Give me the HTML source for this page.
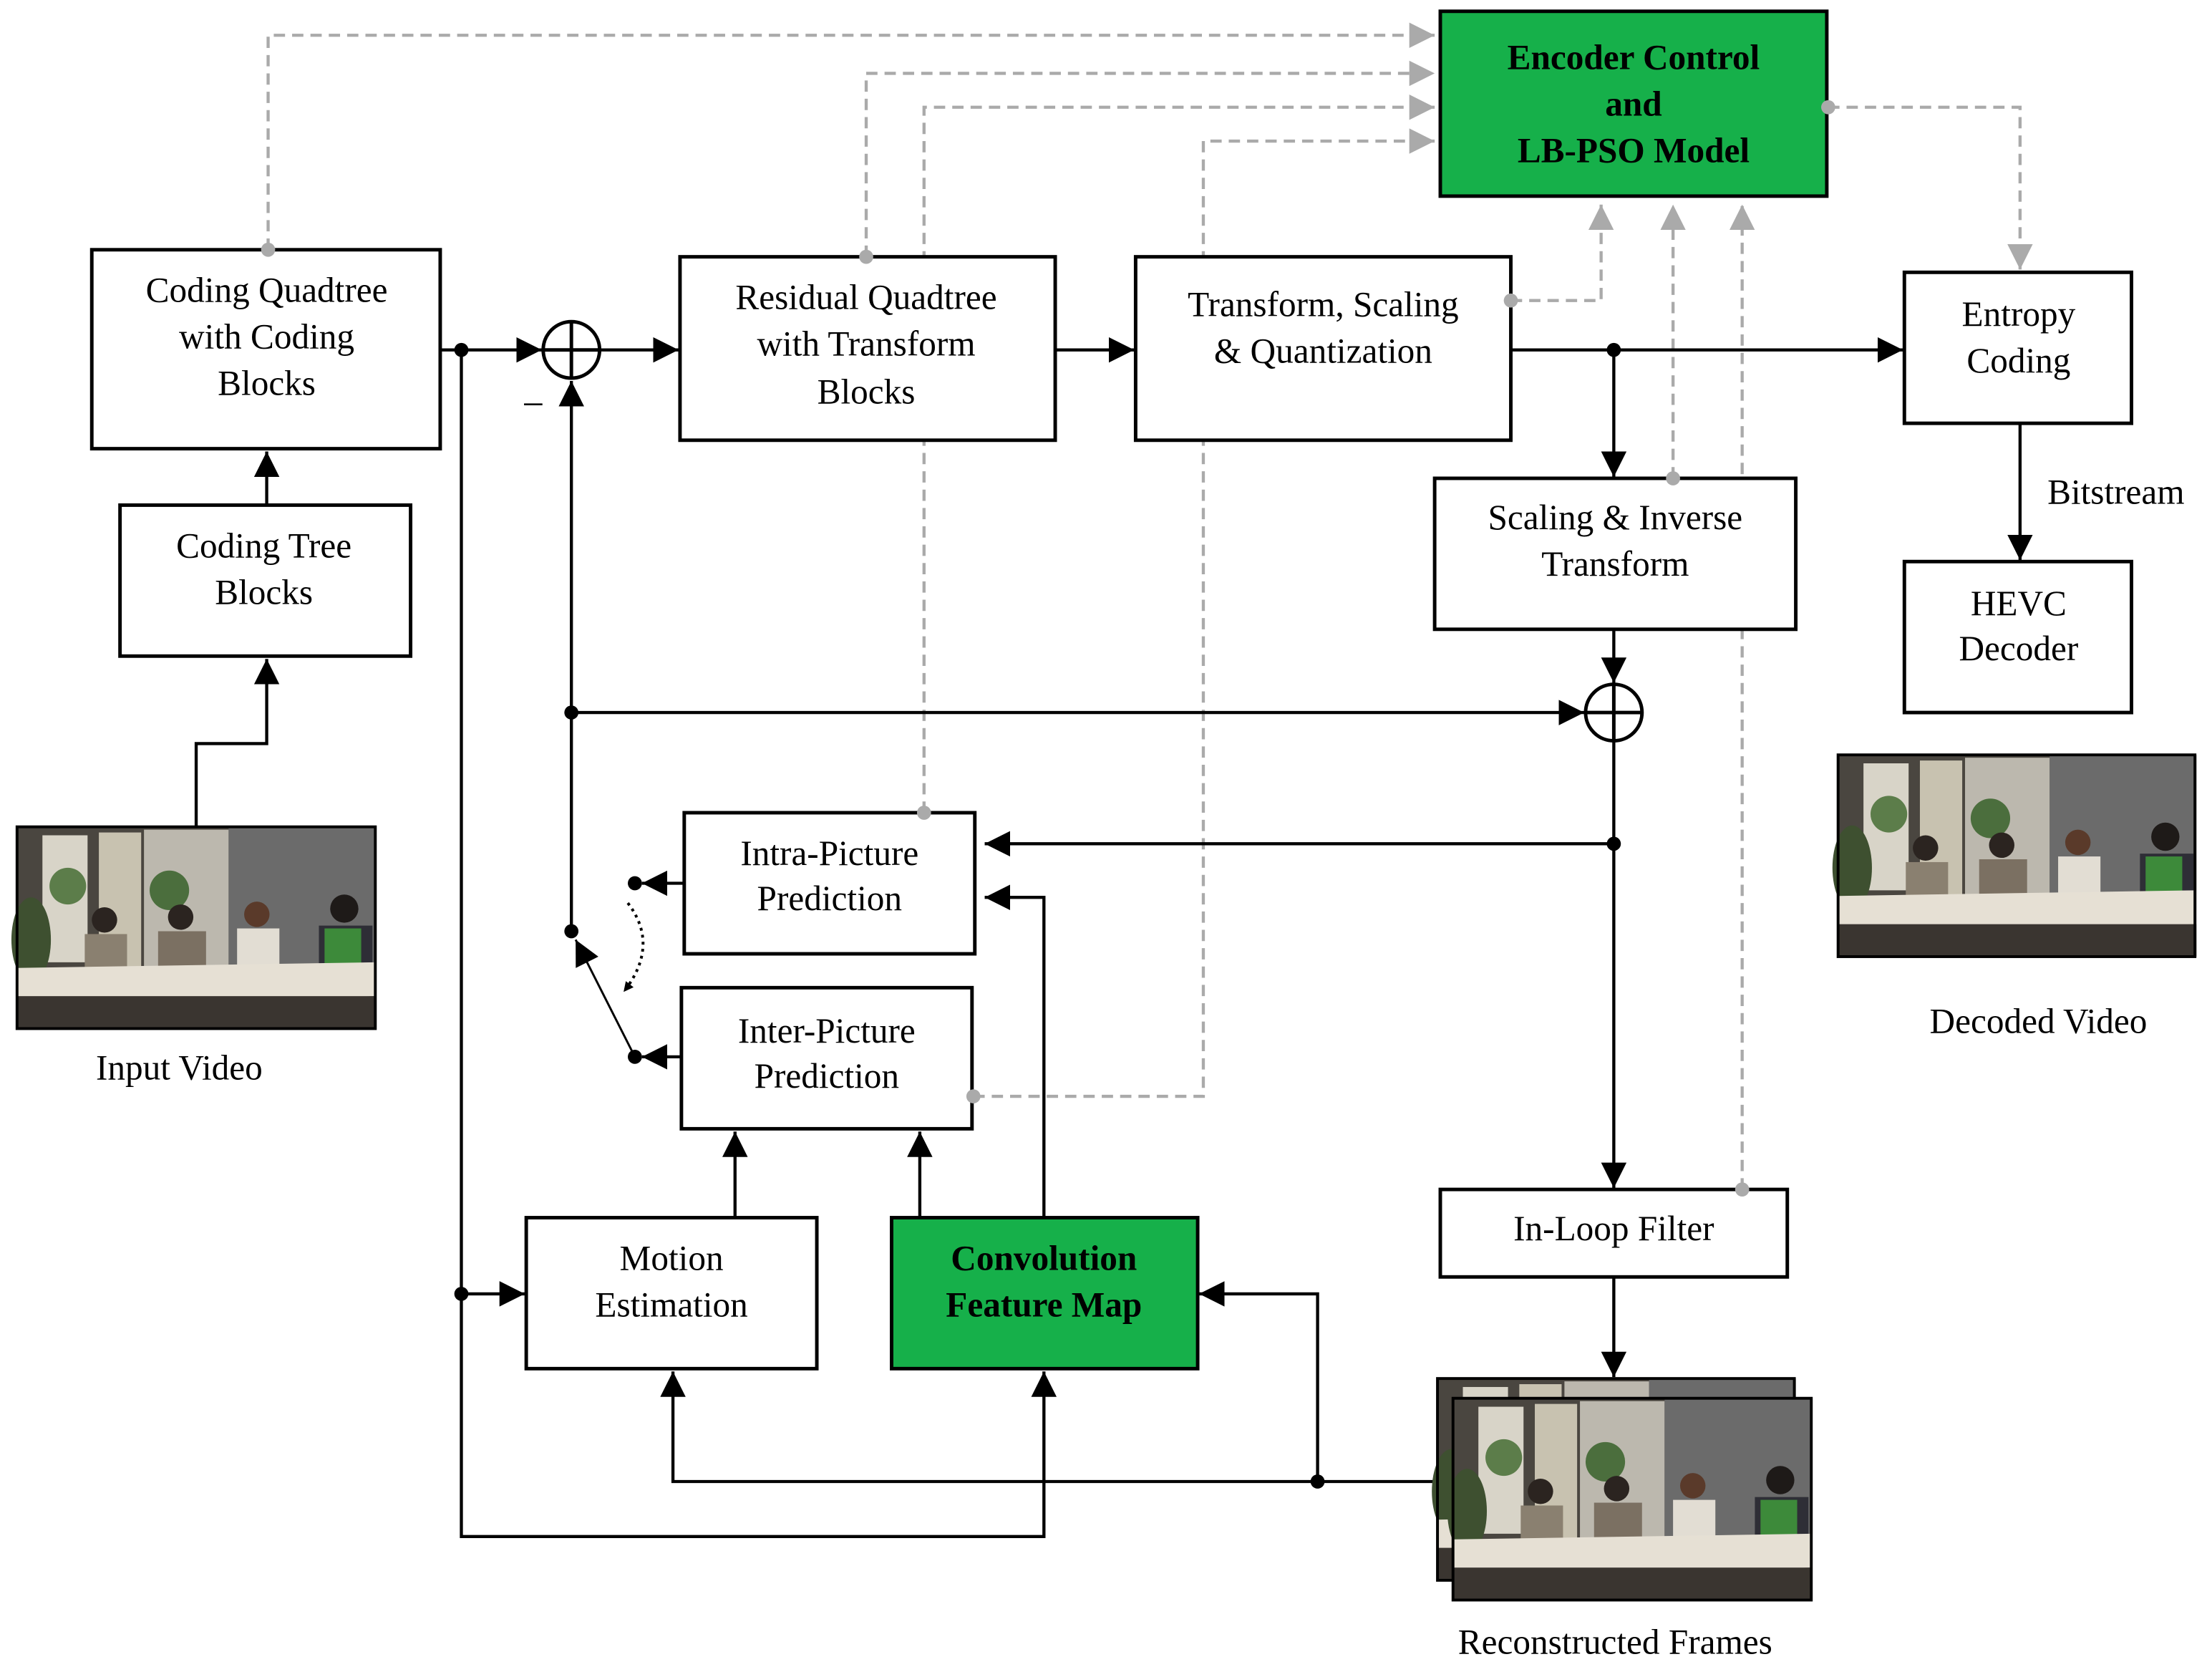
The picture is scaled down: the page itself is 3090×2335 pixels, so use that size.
<!DOCTYPE html>
<html><head><meta charset="utf-8">
<style>
html,body{margin:0;padding:0;background:#fff;}
svg{display:block;}
text{font-family:"Liberation Serif",serif;font-size:25px;fill:#000;}
.b{font-weight:bold;}
</style></head><body>
<svg width="3090" height="2335" viewBox="0 0 1568 1185" xmlns="http://www.w3.org/2000/svg">
<defs>
<marker id="a" viewBox="0 0 10 10" refX="10" refY="5" markerWidth="7" markerHeight="7" markerUnits="userSpaceOnUse" orient="auto"><path d="M0,0L10,5L0,10z" fill="#000"/></marker>
<marker id="A" viewBox="0 0 10 10" refX="10" refY="5" markerWidth="18" markerHeight="18" markerUnits="userSpaceOnUse" orient="auto"><path d="M0,0L10,5L0,10z" fill="#000"/></marker>
<marker id="g" viewBox="0 0 10 10" refX="10" refY="5" markerWidth="18" markerHeight="18" markerUnits="userSpaceOnUse" orient="auto"><path d="M0,0L10,5L0,10z" fill="#aaa"/></marker>
<g id="photo">
<rect x="0" y="0" width="254" height="143" fill="#4a4640"/>
<rect x="18" y="6" width="32" height="90" fill="#d8d4c8"/>
<rect x="58" y="4" width="30" height="95" fill="#c8c2b0"/>
<rect x="90" y="2" width="60" height="100" fill="#bcb8ae"/>
<rect x="150" y="0" width="104" height="110" fill="#6b6b6b"/>
<circle cx="36" cy="42" r="13" fill="#5c7d4a"/>
<circle cx="108" cy="45" r="14" fill="#4b6e3d"/>
<ellipse cx="10" cy="80" rx="14" ry="30" fill="#3e5030"/>
<circle cx="62" cy="66" r="9" fill="#2b2420"/><rect x="48" y="76" width="30" height="30" fill="#8a8070"/>
<circle cx="116" cy="64" r="9" fill="#2b2420"/><rect x="100" y="74" width="34" height="32" fill="#7b7062"/>
<circle cx="170" cy="62" r="9" fill="#5a3a2a"/><rect x="156" y="72" width="30" height="34" fill="#e2ddd3"/>
<circle cx="232" cy="58" r="10" fill="#1e1a18"/><rect x="214" y="70" width="38" height="36" fill="#2e2e36"/>
<rect x="218" y="72" width="26" height="30" fill="#3d8a3a"/>
<path d="M0,100L254,96L254,120L0,128z" fill="#e6e0d4"/>
<rect x="0" y="120" width="254" height="23" fill="#3a3530"/>
</g>
</defs>

<g stroke="#aaa" stroke-width="2.2" stroke-dasharray="8,5" fill="none">
<polyline points="190,177 190,25 1017,25" marker-end="url(#g)"/>
<polyline points="614,182 614,52 1017,52" marker-end="url(#g)"/>
<polyline points="655,576 655,76 1017,76" marker-end="url(#g)"/>
<polyline points="690,777 853,777 853,100 1017,100" marker-end="url(#g)"/>
<polyline points="1071,213 1135,213 1135,145" marker-end="url(#g)"/>
<polyline points="1186,339 1186,145" marker-end="url(#g)"/>
<polyline points="1235,843 1235,145" marker-end="url(#g)"/>
<polyline points="1296,76 1432,76 1432,191" marker-end="url(#g)"/>
</g>

<g stroke="#000" stroke-width="2.2" fill="none">
<polyline points="139,586 139,527 189,527 189,467" marker-end="url(#A)"/>
<polyline points="189,358 189,320" marker-end="url(#A)"/>
<polyline points="312,248 384,248" marker-end="url(#A)"/>
<polyline points="327,248 327,1089 740,1089 740,972" marker-end="url(#A)"/>
<polyline points="327,917 372,917" marker-end="url(#A)"/>
<polyline points="425,248 481,248" marker-end="url(#A)"/>
<polyline points="405,660 405,270" marker-end="url(#A)"/>
<polyline points="405,505 1123,505" marker-end="url(#A)"/>
<polyline points="748,248 804,248" marker-end="url(#A)"/>
<polyline points="1071,248 1349,248" marker-end="url(#A)"/>
<polyline points="1144,248 1144,338" marker-end="url(#A)"/>
<polyline points="1144,446 1144,484" marker-end="url(#A)"/>
<polyline points="1144,525 1144,842" marker-end="url(#A)"/>
<polyline points="1144,598 698,598" marker-end="url(#A)"/>
<polyline points="740,863 740,636 698,636" marker-end="url(#A)"/>
<polyline points="652,863 652,802" marker-end="url(#A)"/>
<polyline points="521,863 521,802" marker-end="url(#A)"/>
<polyline points="1144,905 1144,976" marker-end="url(#A)"/>
<polyline points="1019,1050 477,1050 477,972" marker-end="url(#A)"/>
<polyline points="934,1050 934,917 850,917" marker-end="url(#A)"/>
<polyline points="1432,300 1432,397" marker-end="url(#A)"/>
<polyline points="485,626 455,626" marker-end="url(#A)"/>
<polyline points="483,749 455,749" marker-end="url(#A)"/>
<line x1="450" y1="749" x2="408" y2="666" stroke-width="1.5" marker-end="url(#A)"/>
<path d="M445,640 Q468,670 442,703" stroke-width="2" stroke-dasharray="2,3" marker-end="url(#a)"/>
</g>
<g fill="#000">
<circle cx="327" cy="248" r="5"/><circle cx="327" cy="917" r="5"/>
<circle cx="405" cy="505" r="5"/><circle cx="405" cy="660" r="5"/>
<circle cx="450" cy="626" r="5"/><circle cx="450" cy="749" r="5"/>
<circle cx="1144" cy="248" r="5"/><circle cx="1144" cy="598" r="5"/>
<circle cx="934" cy="1050" r="5"/>
</g>

<g stroke="#000" stroke-width="2.5" fill="#fff">
<circle cx="405" cy="248" r="20"/><path d="M385,248H425M405,228V268"/>
<circle cx="1144" cy="505" r="20"/><path d="M1124,505H1164M1144,485V525"/>
</g>
<text x="370" y="296" style="font-size:28px">−</text>

<g stroke="#000" stroke-width="2.5" fill="#fff">
<rect x="65" y="177" width="247" height="141"/>
<rect x="85" y="358" width="206" height="107"/>
<rect x="482" y="182" width="266" height="130"/>
<rect x="805" y="182" width="266" height="130"/>
<rect x="1350" y="193" width="161" height="107"/>
<rect x="1350" y="398" width="161" height="107"/>
<rect x="1017" y="339" width="256" height="107"/>
<rect x="485" y="576" width="206" height="100"/>
<rect x="483" y="700" width="206" height="100"/>
<rect x="373" y="863" width="206" height="107"/>
<rect x="1021" y="843" width="246" height="62"/>
<rect x="1021" y="8" width="274" height="131" fill="#16b04a"/>
<rect x="632" y="863" width="217" height="107" fill="#16b04a"/>
</g>
<g fill="#aaa">
<circle cx="190" cy="177" r="5"/><circle cx="614" cy="182" r="5"/><circle cx="655" cy="576" r="5"/>
<circle cx="690" cy="777" r="5"/><circle cx="1071" cy="213" r="5"/><circle cx="1186" cy="339" r="5"/>
<circle cx="1235" cy="843" r="5"/><circle cx="1296" cy="76" r="5"/>
</g>

<g transform="translate(12,586)"><use href="#photo"/><rect width="254" height="143" fill="none" stroke="#000" stroke-width="2"/></g>
<g transform="translate(1303,535)"><use href="#photo"/><rect width="253" height="143" fill="none" stroke="#000" stroke-width="2"/></g>
<g transform="translate(1019,977)"><use href="#photo"/><rect width="253" height="143" fill="none" stroke="#000" stroke-width="2"/></g>
<g transform="translate(1030,991)"><use href="#photo"/><rect width="254" height="143" fill="none" stroke="#000" stroke-width="2"/></g>

<g text-anchor="middle">
<text x="1158" y="49" class="b">Encoder Control</text>
<text x="1158" y="82" class="b">and</text>
<text x="1158" y="115" class="b">LB-PSO Model</text>
<text x="189" y="214">Coding Quadtree</text>
<text x="189" y="247">with Coding</text>
<text x="189" y="280">Blocks</text>
<text x="187" y="395">Coding Tree</text>
<text x="187" y="428">Blocks</text>
<text x="614" y="219">Residual Quadtree</text>
<text x="614" y="252">with Transform</text>
<text x="614" y="286">Blocks</text>
<text x="938" y="224">Transform, Scaling</text>
<text x="938" y="257">&amp; Quantization</text>
<text x="1431" y="231">Entropy</text>
<text x="1431" y="264">Coding</text>
<text x="1431" y="436">HEVC</text>
<text x="1431" y="468">Decoder</text>
<text x="1145" y="375">Scaling &amp; Inverse</text>
<text x="1145" y="408">Transform</text>
<text x="588" y="613">Intra-Picture</text>
<text x="588" y="645">Prediction</text>
<text x="586" y="739">Inter-Picture</text>
<text x="586" y="771">Prediction</text>
<text x="476" y="900">Motion</text>
<text x="476" y="933">Estimation</text>
<text x="740" y="900" class="b">Convolution</text>
<text x="740" y="933" class="b">Feature Map</text>
<text x="1144" y="879">In-Loop Filter</text>
<text x="127" y="765">Input Video</text>
<text x="1445" y="732">Decoded Video</text>
<text x="1145" y="1172">Reconstructed Frames</text>
<text x="1500" y="357">Bitstream</text>
</g>
</svg>
</body></html>
